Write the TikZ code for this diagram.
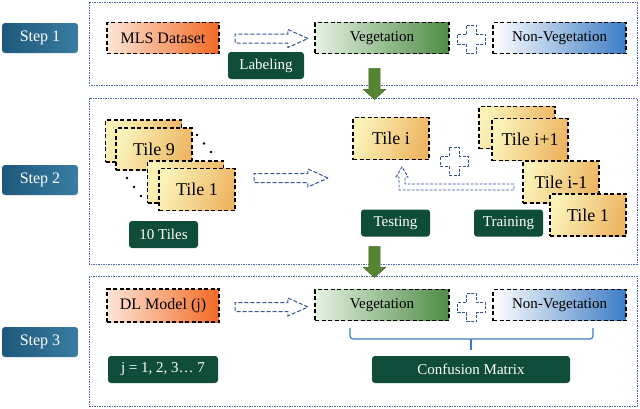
\documentclass[tikz,border=0pt]{standalone}
\usepackage{fontspec}
\setmainfont{Liberation Serif}
\usetikzlibrary{shapes.arrows,calc}

\definecolor{stepblue}{HTML}{1C587C}
\definecolor{steplight}{HTML}{3A7DA2}
\definecolor{labelgreen}{HTML}{0F4C3A}
\definecolor{panelblue}{HTML}{4A69A8}
\definecolor{arrowblue}{HTML}{35558F}
\definecolor{vegdark}{HTML}{4E8B45}
\definecolor{vegpale}{HTML}{E6F2E4}
\definecolor{nonvegdark}{HTML}{3C7CC4}
\definecolor{mlsorange}{HTML}{F36A24}
\definecolor{mlspale}{HTML}{FDE5D6}
\definecolor{tilepale}{HTML}{FBF2B8}
\definecolor{tileorange}{HTML}{EDB663}
\definecolor{arrowgreen}{HTML}{558530}

\tikzset{
  panel/.style={draw=panelblue, line width=0.8pt, dash pattern=on 1.5pt off 1pt},
  stepbox/.style={rounded corners=3pt, draw=gray!60, densely dotted, left color=stepblue,
    right color=steplight, text=white, minimum width=76pt, minimum height=30pt,
    inner sep=0pt, font=\fontsize{16}{18}\selectfont},
  databox/.style={draw=black, line width=1.6pt, dash pattern=on 4pt off 2.5pt,
    inner sep=0pt, minimum height=31pt, font=\fontsize{15}{18}\selectfont},
  tilebox/.style={draw=black, line width=1.6pt, dash pattern=on 4pt off 2.5pt,
    left color=tilepale, right color=tileorange, shading angle=70, inner sep=0pt,
    minimum width=76pt, minimum height=42pt, font=\fontsize{18}{20}\selectfont},
  labelbox/.style={rounded corners=3pt, fill=labelgreen, text=white, inner sep=0pt,
    minimum height=27pt, font=\fontsize{15}{18}\selectfont},
  hollowarrow/.style={single arrow, draw=arrowblue, line width=1pt,
    dash pattern=on 4pt off 2pt, minimum height=73pt, inner sep=4pt,
    single arrow head extend=4.5pt, single arrow tip angle=48},
  downarrow/.style={single arrow, fill=arrowgreen, draw=arrowgreen!70!black,
    shape border rotate=270, minimum height=31pt, inner sep=5.5pt,
    single arrow head extend=5.5pt, single arrow tip angle=95},
  plusline/.style={draw=arrowblue, line width=0.9pt, dash pattern=on 3pt off 1.5pt},
  plussign/.pic={\draw[plusline] (-5,-14) -- (5,-14) -- (5,-5) -- (14,-5) -- (14,5)
    -- (5,5) -- (5,14) -- (-5,14) -- (-5,5) -- (-14,5) -- (-14,-5) -- (-5,-5) -- cycle;}
}

\begin{document}
\begin{tikzpicture}[x=1pt,y=-1pt]
    \useasboundingbox (0,0) rectangle (640,408);
    %panels
    \draw[panel] (89,2) rectangle (637,85);
    \draw[panel] (89,98) rectangle (637,264);
    \draw[panel] (89,276) rectangle (637,406);
    %steps
    \node[stepbox] (step1) at (40,38) {Step 1};
    \node[stepbox] (step2) at (40,180) {Step 2};
    \node[stepbox] (step3) at (40,342) {Step 3};

    %%%STEP 1%%%
    \node[databox, minimum width=112pt, left color=mlspale, right color=mlsorange,
      font=\fontsize{16}{18}\selectfont] (mls) at (163,38) {MLS Dataset};
    \node[hollowarrow] (arrowA) at (266.5,38.5) {};
    \node[labelbox, minimum width=76pt] (labeling) at (266,65.5) {Labeling};
    \node[databox, minimum width=134pt, left color=vegpale, right color=vegdark] (vegA)
      at (382,38) {Vegetation};
    \pic at (471.5,39) {plussign};
    \node[databox, minimum width=133pt, left color=white, right color=nonvegdark] (nonvegA)
      at (559.5,38) {Non-Vegetation};
    \node[downarrow] (downA) at (374.5,81.5) {};

    %%%STEP 2%%%
    %tile stack
    \node[tilebox] (tile9b) at (143.5,141) {};
    \node[tilebox] (tile9) at (154,149) {Tile 9};
    \node[tilebox] (tile1b) at (185.5,182) {};
    \node[tilebox] (tile1) at (197,189.5) {Tile 1};
    \foreach \dx/\dy in {197/135, 204/143.5, 211/152, 127/178, 134/187, 141/196}
      \fill (\dx,\dy) circle (1.4);
    \node[labelbox, minimum width=69pt] (tiles) at (163.5,234.5) {10 Tiles};
    \node[hollowarrow, minimum height=74pt] (arrowB) at (286,178) {};
    %test and train
    \node[tilebox] (tilei) at (391,138.5) {Tile i};
    \pic at (454,161) {plussign};
    \node[tilebox] (tileipb) at (517,127.5) {};
    \node[tilebox] (tileip) at (530,139.5) {Tile i+1};
    \node[tilebox] (tileim) at (561,182) {Tile i-1};
    \node[tilebox] (tileone) at (588,215) {Tile 1};
    \node[labelbox, minimum width=69pt] (testing) at (395.5,223) {Testing};
    \node[labelbox, minimum width=69pt] (training) at (508.5,223) {Training};
    %return arrow
    \coordinate (backstart) at (514,184);
    \coordinate (backtip) at (402,167);
    \draw[plusline] (backstart) -- ++(-109,0) -- ++(0,-7) -- ++(3,0) -- (backtip)
      -- ++(-6,10) -- ++(3,0) -- ++(0,13) -- ++(115,0) -- cycle;
    \node[downarrow] (downB) at (374.5,259.5) {};

    %%%STEP 3%%%
    \node[databox, minimum width=112pt, minimum height=33pt, left color=mlspale,
      right color=mlsorange, font=\fontsize{16}{18}\selectfont] (model) at (163,305.5)
      {DL Model (j)};
    \node[hollowarrow] (arrowC) at (266.5,307) {};
    \node[labelbox, minimum width=110pt] (jvalues) at (163,369.5) {j = 1, 2, 3\dots{} 7};
    \node[databox, minimum width=134pt, left color=vegpale, right color=vegdark] (vegC)
      at (382,305) {Vegetation};
    \pic at (471.5,307.5) {plussign};
    \node[databox, minimum width=133pt, left color=white, right color=nonvegdark] (nonvegC)
      at (559.5,305) {Non-Vegetation};
    %brace
    \draw[draw=nonvegdark, line width=1.2pt, rounded corners=3pt]
      (350,328) -- (350,339) -- (593,339) -- (593,328);
    \draw[draw=nonvegdark, line width=1.2pt] (471,339) -- (471,350);
    \node[labelbox, minimum width=198pt] (confusion) at (471,369.5) {Confusion Matrix};
\end{tikzpicture}
\end{document}
